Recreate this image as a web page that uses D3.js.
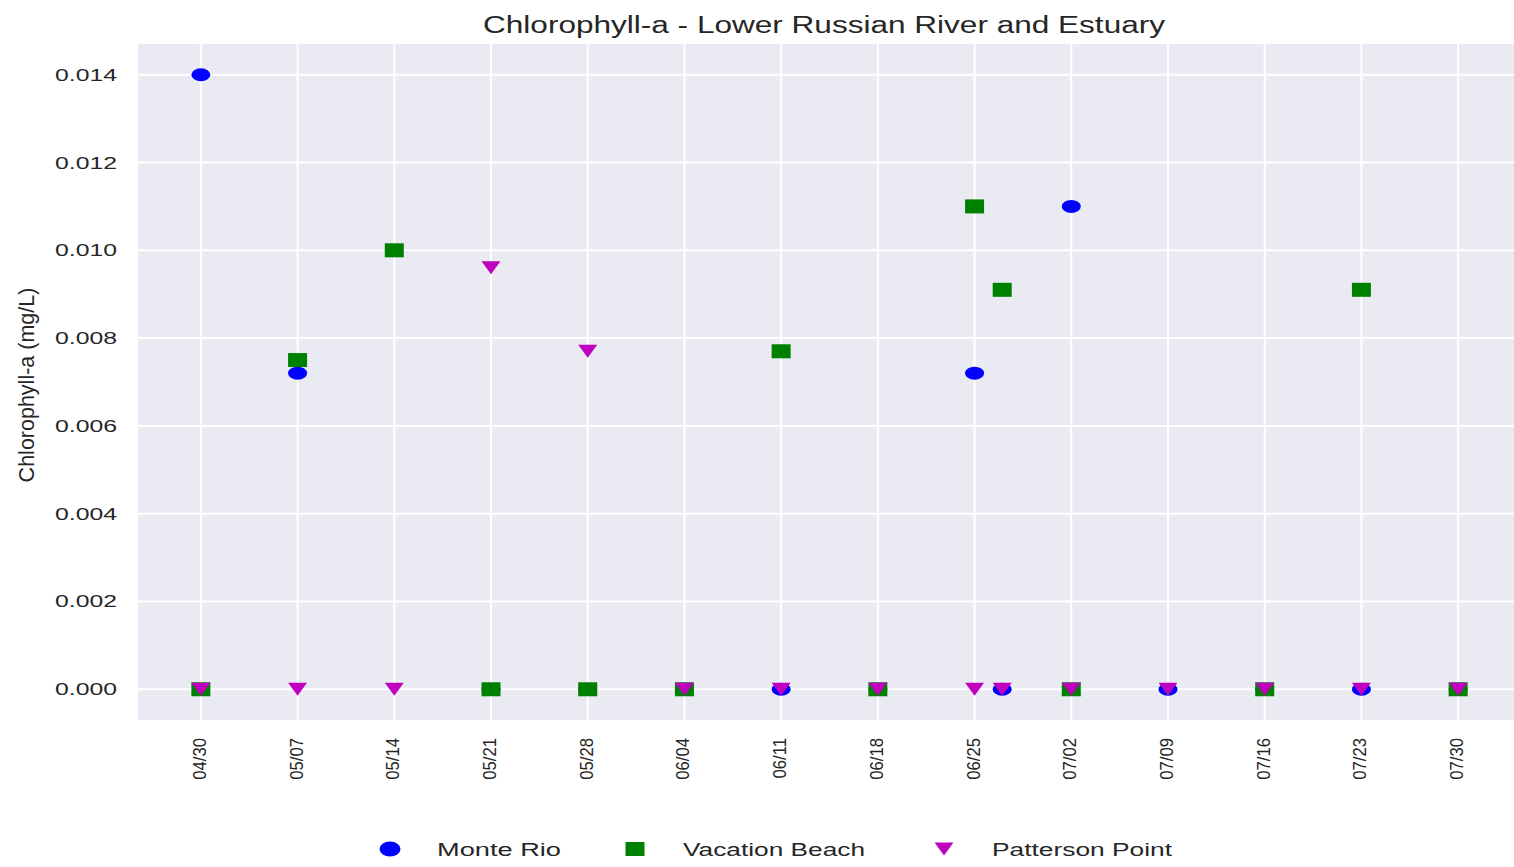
<!DOCTYPE html>
<html>
<head>
<meta charset="utf-8">
<script src="https://cdn.jsdelivr.net/npm/d3@7"></script>
<style>
  body { margin: 0; background: #fff; }
  text { font-family: "Liberation Sans", Arial, sans-serif; fill: #262626; }
</style>
</head>
<body>
<svg id="chart" width="1514" height="867"></svg>
<script>
// sample dates (mm/dd) and values in mg/L, null = no sample
var sampleDates = ["04/30", "05/07", "05/14", "05/21", "05/28", "06/04", "06/11", "06/18",
  "06/25", "06/27", "07/02", "07/09", "07/16", "07/23", "07/30"];
var monteRio = [0.014, 0.0072, null, 0, 0, 0, 0, 0, 0.0072, 0, 0.011, 0, 0, 0, 0];
var vacationBeach = [0, 0.0075, 0.010, 0, 0, 0, 0.0077, 0, 0.011, 0.0091, 0, null, 0, 0.0091, 0];
var pattersonPoint = [0, 0, 0, 0.0096, 0.0077, 0, 0, 0, 0, 0, 0, 0, 0, 0, 0];

var tickDates = ["04/30", "05/07", "05/14", "05/21", "05/28", "06/04", "06/11", "06/18",
  "06/25", "07/02", "07/09", "07/16", "07/23", "07/30"];
var yTicks = [0, 0.002, 0.004, 0.006, 0.008, 0.010, 0.012, 0.014];

var sites = [
  { name: "Monte Rio", values: monteRio, color: "#0000ff", shape: "circle" },
  { name: "Vacation Beach", values: vacationBeach, color: "#008000", shape: "square" },
  { name: "Patterson Point", values: pattersonPoint, color: "#bf00bf", shape: "triangle" }
];

var parseDate = d3.timeParse("%Y/%m/%d");
var toDate = function (s) { return parseDate("2018/" + s); };
var fmt = d3.timeFormat("%m/%d");

var plot = { left: 138, top: 44, right: 1521, bottom: 720 };
var first = toDate(tickDates[0]), last = toDate(tickDates[tickDates.length - 1]);
var pad = (last - first) * 0.05;

var x = d3.scaleTime()
  .domain([new Date(+first - pad), new Date(+last + pad)])
  .range([plot.left, plot.right]);
var y = d3.scaleLinear()
  .domain([-0.0007, 0.0147])
  .range([plot.bottom, plot.top]);

var svg = d3.select("#chart");

// background
svg.append("rect")
  .attr("x", plot.left).attr("y", plot.top)
  .attr("width", plot.right - plot.left).attr("height", plot.bottom - plot.top)
  .attr("fill", "#eaeaf2");

// grid
svg.append("g").selectAll("line").data(tickDates).join("line")
  .attr("x1", d => x(toDate(d))).attr("x2", d => x(toDate(d)))
  .attr("y1", plot.top).attr("y2", plot.bottom)
  .attr("stroke", "#fff").attr("stroke-width", 2);
svg.append("g").selectAll("line").data(yTicks).join("line")
  .attr("x1", plot.left).attr("x2", plot.right)
  .attr("y1", d => y(d)).attr("y2", d => y(d))
  .attr("stroke", "#fff").attr("stroke-width", 2);

// y tick labels
svg.append("g").selectAll("text").data(yTicks).join("text")
  .attr("x", 117).attr("y", d => y(d) + 6)
  .attr("text-anchor", "end")
  .attr("font-size", 16)
  .attr("textLength", 62).attr("lengthAdjust", "spacingAndGlyphs")
  .text(d3.format(".3f"));

// x tick labels, rotated (a bit wider than tall, like the source)
svg.append("g").selectAll("text").data(tickDates).join("text")
  .attr("transform", d => "translate(" + (x(toDate(d)) + 5) + ",738) rotate(-90) scale(1,1.15)")
  .attr("text-anchor", "end")
  .attr("font-size", 16.7)
  .text(d => fmt(toDate(d)));

// markers
function drawMarker(g, shape, color, w, h) {
  if (shape === "circle") {
    g.append("ellipse").attr("rx", w / 2).attr("ry", h / 2).attr("fill", color);
  } else if (shape === "square") {
    g.append("rect").attr("x", -w / 2).attr("y", -h / 2)
      .attr("width", w).attr("height", h).attr("fill", color);
  } else {
    g.append("path")
      .attr("d", "M" + (-w / 2) + "," + (-h / 2) + "L" + (w / 2) + "," + (-h / 2) + "L0," + (h / 2) + "Z")
      .attr("fill", color);
  }
}

var markerSize = { circle: [19, 13], square: [19, 14], triangle: [19, 13] };

sites.forEach(function (s) {
  var pts = sampleDates.map((d, i) => ({ date: toDate(d), v: s.values[i] }))
    .filter(p => p.v !== null);
  var g = svg.append("g");
  pts.forEach(function (p) {
    var m = g.append("g").attr("transform", "translate(" + x(p.date) + "," + y(p.v) + ")");
    drawMarker(m, s.shape, s.color, markerSize[s.shape][0], markerSize[s.shape][1]);
  });
});

// title
svg.append("text")
  .attr("x", 824).attr("y", 33)
  .attr("text-anchor", "middle")
  .attr("font-size", 23.5)
  .attr("textLength", 682).attr("lengthAdjust", "spacingAndGlyphs")
  .text("Chlorophyll-a - Lower Russian River and Estuary");

// y axis label
svg.append("text")
  .attr("transform", "translate(34,385) rotate(-90)")
  .attr("text-anchor", "middle")
  .attr("font-size", 21.5)
  .text("Chlorophyll-a (mg/L)");

// legend
var legendX = [390, 635, 944];
var legendText = [437, 683, 992];
var legendLen = [124, 182, 180];
var legendMarker = { circle: [21, 15], square: [19, 14], triangle: [19, 13] };
sites.forEach(function (s, i) {
  var m = svg.append("g").attr("transform", "translate(" + legendX[i] + ",849)");
  drawMarker(m, s.shape, s.color, legendMarker[s.shape][0], legendMarker[s.shape][1]);
  svg.append("text")
    .attr("x", legendText[i]).attr("y", 856)
    .attr("font-size", 17.5)
    .attr("textLength", legendLen[i]).attr("lengthAdjust", "spacingAndGlyphs")
    .text(s.name);
});
</script>
</body>
</html>
